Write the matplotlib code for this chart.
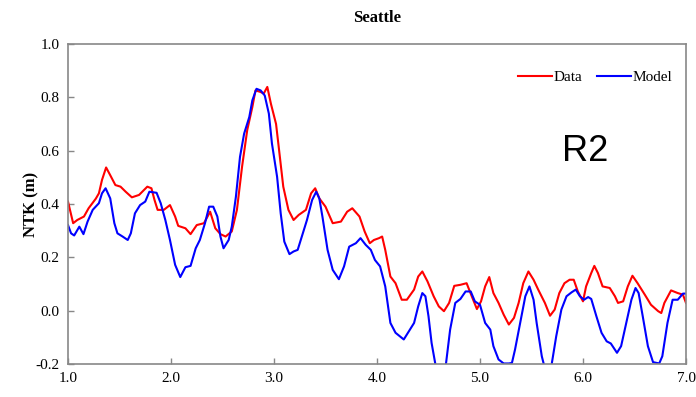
import numpy as np
import matplotlib
matplotlib.use("Agg")
import matplotlib.pyplot as plt

# values
data_x = [1.00, 1.05, 1.09, 1.155, 1.20, 1.27, 1.30, 1.33, 1.37, 1.41, 1.46, 1.51, 1.56,
          1.62, 1.69, 1.77, 1.81, 1.84, 1.87, 1.93, 1.99, 2.04, 2.07, 2.14, 2.19, 2.25,
          2.32, 2.38, 2.43, 2.48, 2.53, 2.59, 2.64, 2.69, 2.74, 2.79, 2.82, 2.87, 2.90,
          2.935, 2.97, 3.02, 3.05, 3.09, 3.14, 3.19, 3.24, 3.31, 3.36, 3.40, 3.44, 3.50,
          3.57, 3.65, 3.71, 3.76, 3.83, 3.88, 3.93, 3.97, 4.02, 4.05, 4.08, 4.13, 4.18,
          4.24, 4.29, 4.36, 4.40, 4.44, 4.49, 4.55, 4.60, 4.65, 4.70, 4.75, 4.81, 4.87,
          4.92, 4.97, 5.01, 5.05, 5.09, 5.13, 5.18, 5.23, 5.28, 5.33, 5.375, 5.42, 5.47,
          5.52, 5.565, 5.63, 5.68, 5.725, 5.77, 5.82, 5.87, 5.91, 5.95, 6.00, 6.03, 6.08,
          6.11, 6.145, 6.19, 6.26, 6.31, 6.34, 6.39, 6.435, 6.48, 6.53, 6.60, 6.66, 6.73,
          6.76, 6.79, 6.855, 6.92, 6.97, 7.00]
data_y = [0.409, 0.328, 0.340, 0.353, 0.384, 0.420, 0.440, 0.490, 0.537, 0.508, 0.471, 0.465, 0.446,
          0.425, 0.434, 0.465, 0.459, 0.415, 0.378, 0.378, 0.396, 0.353, 0.318, 0.309, 0.287, 0.321,
          0.328, 0.371, 0.309, 0.287, 0.278, 0.297, 0.378, 0.540, 0.677, 0.764, 0.826, 0.820, 0.814,
          0.839, 0.776, 0.700, 0.600, 0.465, 0.378, 0.340, 0.359, 0.378, 0.440, 0.459, 0.421, 0.390,
          0.328, 0.334, 0.371, 0.384, 0.353, 0.297, 0.253, 0.265, 0.272, 0.278, 0.228, 0.128, 0.103,
          0.041, 0.041, 0.079, 0.128, 0.147, 0.110, 0.054, 0.016, -0.002, 0.029, 0.093, 0.097, 0.103,
          0.054, 0.006, 0.035, 0.091, 0.126, 0.066, 0.029, -0.015, -0.052, -0.027, 0.029, 0.103, 0.147,
          0.116, 0.079, 0.029, -0.019, 0.004, 0.066, 0.103, 0.116, 0.116, 0.072, 0.035, 0.091, 0.141,
          0.168, 0.141, 0.091, 0.085, 0.054, 0.029, 0.035, 0.091, 0.131, 0.103, 0.060, 0.022, -0.002,
          -0.009, 0.029, 0.076, 0.066, 0.060, 0.029]

model_x = [1.00, 1.03, 1.06, 1.11, 1.15, 1.19, 1.24, 1.30, 1.33, 1.365, 1.41, 1.45, 1.48,
           1.53, 1.58, 1.61, 1.65, 1.70, 1.75, 1.79, 1.86, 1.90, 1.945, 1.99, 2.04, 2.09,
           2.14, 2.19, 2.24, 2.28, 2.33, 2.37, 2.41, 2.45, 2.48, 2.51, 2.56, 2.59, 2.63,
           2.67, 2.71, 2.76, 2.79, 2.83, 2.87, 2.91, 2.95, 2.98, 3.03, 3.065, 3.10, 3.15,
           3.19, 3.23, 3.28, 3.32, 3.37, 3.41, 3.44, 3.47, 3.52, 3.57, 3.63, 3.68, 3.73,
           3.795, 3.84, 3.89, 3.94, 3.98, 4.03, 4.08, 4.13, 4.18, 4.26, 4.31, 4.36, 4.40,
           4.44, 4.47, 4.50, 4.53, 4.57, 4.61, 4.66, 4.71, 4.76, 4.81, 4.86, 4.91, 4.95,
           5.00, 5.05, 5.10, 5.13, 5.18, 5.23, 5.28, 5.31, 5.34, 5.39, 5.44, 5.48, 5.52,
           5.55, 5.60, 5.645, 5.69, 5.74, 5.79, 5.84, 5.89, 5.93, 5.97, 6.01, 6.05, 6.08,
           6.13, 6.18, 6.23, 6.27, 6.33, 6.37, 6.42, 6.47, 6.51, 6.54, 6.58, 6.63, 6.68,
           6.74, 6.77, 6.82, 6.87, 6.92, 6.97, 7.00]
model_y = [0.321, 0.290, 0.282, 0.315, 0.287, 0.334, 0.378, 0.403, 0.440, 0.459, 0.421, 0.328, 0.290,
           0.278, 0.265, 0.290, 0.365, 0.396, 0.409, 0.446, 0.442, 0.403, 0.340, 0.265, 0.172, 0.126,
           0.163, 0.168, 0.234, 0.265, 0.328, 0.390, 0.390, 0.353, 0.278, 0.234, 0.265, 0.315, 0.427,
           0.577, 0.664, 0.726, 0.789, 0.832, 0.826, 0.807, 0.739, 0.627, 0.502, 0.365, 0.259, 0.212,
           0.222, 0.228, 0.290, 0.340, 0.415, 0.446, 0.421, 0.353, 0.228, 0.153, 0.118, 0.166, 0.240,
           0.253, 0.272, 0.247, 0.228, 0.190, 0.166, 0.091, -0.046, -0.083, -0.108, -0.077, -0.046, 0.016,
           0.066, 0.054, -0.021, -0.121, -0.208, -0.290, -0.230, -0.071, 0.029, 0.044, 0.072, 0.072, 0.035,
           0.022, -0.046, -0.071, -0.133, -0.183, -0.198, -0.198, -0.196, -0.146, -0.046, 0.054, 0.091, 0.041,
           -0.046, -0.171, -0.240, -0.215, -0.096, 0.004, 0.054, 0.069, 0.079, 0.054, 0.041, 0.051, 0.044,
           -0.021, -0.083, -0.115, -0.123, -0.158, -0.133, -0.046, 0.041, 0.085, 0.066, -0.021, -0.133, -0.193,
           -0.198, -0.171, -0.046, 0.041, 0.041, 0.064, 0.064]

x_ticks = [1.0, 2.0, 3.0, 4.0, 5.0, 6.0, 7.0]
y_ticks = [-0.2, 0.0, 0.2, 0.4, 0.6, 0.8, 1.0]

plt.rcParams["font.family"] = ["Liberation Serif", "DejaVu Serif"]

fig = plt.figure(figsize=(6.96, 3.97), dpi=100)
ax = fig.add_axes([68/696, 1 - 364/397, 618/696, 320/397])

ax.plot(data_x, data_y, color="red", lw=1.5, label="Data")
ax.plot(model_x, model_y, color="blue", lw=1.5, label="Model")

ax.set_xlim(1.0, 7.0)
ax.set_ylim(-0.2, 1.0)
ax.set_xticks(x_ticks)
ax.set_yticks(y_ticks)
ax.set_xticklabels([f"{v:.1f}" for v in x_ticks])
ax.set_yticklabels([f"{v:.1f}" for v in y_ticks])
ax.tick_params(direction="in", length=4, width=1, color="#888888", labelsize=11, pad=6)
for s in ax.spines.values():
    s.set_color("#888888")
    s.set_linewidth(1.2)

ax.set_title("Seattle", fontsize=12, fontweight="bold", pad=16)
ax.set_ylabel("NTK (m)", fontsize=12, fontweight="bold", labelpad=-3)

ax.legend(loc="upper right", bbox_to_anchor=(1.0, 0.96), ncol=2, frameon=False,
          fontsize=11, handlelength=2.2, handletextpad=0.1, columnspacing=1.0)
ax.text(6.02, 0.596, "R2", fontsize=26, family="Liberation Sans", ha="center", va="center")

fig.savefig("out.png", dpi=100)
